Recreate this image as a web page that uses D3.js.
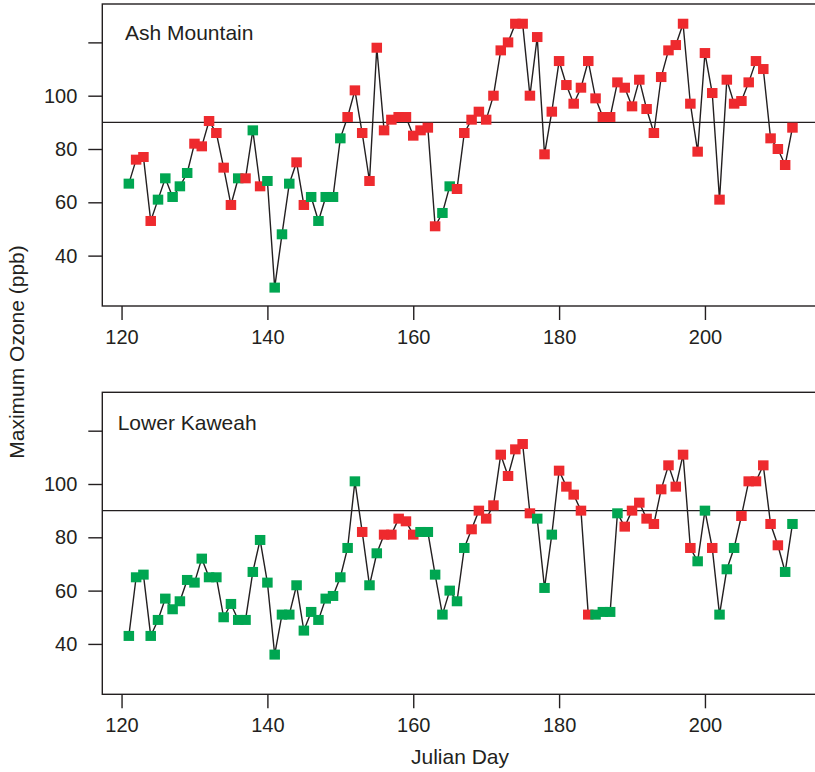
<!DOCTYPE html>
<html><head><meta charset="utf-8">
<script src="https://cdn.jsdelivr.net/npm/d3@7"></script>
<style>
html,body{margin:0;padding:0;background:#fff;}
svg text{font-family:"Liberation Sans",Arial,Helvetica,sans-serif;fill:#231F20;}
</style></head>
<body>
<svg id="chart" width="815" height="772"></svg>
<script>
const days = [121,122,123,124,125,126,127,128,129,130,131,132,133,134,135,136,137,138,139,140,
  141,142,143,144,145,146,147,148,149,150,151,152,153,154,155,156,157,158,159,160,
  161,162,163,164,165,166,167,168,169,170,171,172,173,174,175,176,177,178,179,180,
  181,182,183,184,185,186,187,188,189,190,191,192,193,194,195,196,197,198,199,200,
  201,202,203,204,205,206,207,208,209,210,211,212];

const ashOzone = [67,76,77,53,61,69,62,66,71,82,81,90.5,86,73,59,69,69,87,66,68,
  28,48,67,75,59,62,53,62,62,84,92,102,86,68,118,87,91,92,92,85,
  87,88,51,56,66,65,86,91,94,91,100,117,120,127,127,100,122,78,94,113,
  104,97,103,113,99,92,92,105,103,96,106,95,86,107,117,119,127,97,79,116,
  101,61,106,97,98,105,113,110,84,80,74,88];
const ashExceed = [0,1,1,1,0,0,0,0,0,1,1,1,1,1,1,0,1,0,1,0,
  0,0,0,1,1,0,0,0,0,0,1,1,1,1,1,1,1,1,1,1,
  1,1,1,0,0,1,1,1,1,1,1,1,1,1,1,1,1,1,1,1,
  1,1,1,1,1,1,1,1,1,1,1,1,1,1,1,1,1,1,1,1,
  1,1,1,1,1,1,1,1,1,1,1,1];

const kawOzone = [43,65,66,43,49,57,53,56,64,63,72,65,65,50,55,49,49,67,79,63,
  36,51,51,62,45,52,49,57,58,65,76,101,82,62,74,81,81,87,86,81,
  82,82,66,51,60,56,76,83,90,87,92,111,103,113,115,89,87,61,81,105,
  99,96,90,51,51,52,52,89,84,90,93,87,85,98,107,99,111,76,71,90,
  76,51,68,76,88,101,101,107,85,77,67,85];
const kawExceed = [0,0,0,0,0,0,0,0,0,0,0,0,0,0,0,0,0,0,0,0,
  0,0,0,0,0,0,0,0,0,0,0,0,1,0,0,1,1,1,1,1,
  0,0,0,0,0,0,0,1,1,1,1,1,1,1,1,1,0,0,0,1,
  1,1,1,1,0,0,0,0,1,1,1,1,1,1,1,1,1,1,0,0,
  1,0,0,0,1,1,1,1,1,1,0,0];

const xTicks = [120,140,160,180,200];
const yTicks = [40,60,80,100,120];
const yTickLabels = ["40","60","80","100",""];
const standard = 90;
const panelTitles = ["Ash Mountain","Lower Kaweah"];
const xTitle = "Julian Day";
const yTitle = "Maximum Ozone (ppb)";

const RED = "#EE2A2E", GREEN = "#00A651", INK = "#231F20";
const svg = d3.select("#chart");
const left = 102.3, right = 819;
const x = d3.scaleLinear().domain([117.36, 215.64]).range([left, right]);

const panels = [
  {title: panelTitles[0], vals: ashOzone, flags: ashExceed, top: 4, bottom: 306, tx: 125, ty: 40},
  {title: panelTitles[1], vals: kawOzone, flags: kawExceed, top: 392.3, bottom: 694.3, tx: 117.7, ty: 429.5}
];

panels.forEach(p => {
  const y = d3.scaleLinear().domain([21.1, 134.4]).range([p.bottom, p.top]);
  const g = svg.append("g");
  // box
  g.append("rect").attr("x", left).attr("y", p.top).attr("width", right - left).attr("height", p.bottom - p.top)
    .attr("fill", "none").attr("stroke", INK).attr("stroke-width", 1.4);
  // y axis
  const ya = g.append("g").attr("transform", `translate(${left},0)`)
    .call(d3.axisLeft(y).tickValues(yTicks).tickSize(14).tickPadding(11)
      .tickFormat((d,i) => yTickLabels[i]));
  ya.select(".domain").remove();
  ya.selectAll("line").attr("stroke", INK).attr("stroke-width", 1.4);
  ya.selectAll("text").attr("font-size", 20).attr("fill", INK)
    .attr("font-family", "'Liberation Sans', Arial, sans-serif");
  // x axis
  const xa = g.append("g").attr("transform", `translate(0,${p.bottom})`)
    .call(d3.axisBottom(x).tickValues(xTicks).tickSize(14).tickPadding(10).tickFormat(d3.format("d")));
  xa.select(".domain").remove();
  xa.selectAll("line").attr("stroke", INK).attr("stroke-width", 1.4);
  xa.selectAll("text").attr("font-size", 20).attr("fill", INK)
    .attr("font-family", "'Liberation Sans', Arial, sans-serif");
  // threshold
  g.append("line").attr("x1", left).attr("x2", right).attr("y1", y(standard)).attr("y2", y(standard))
    .attr("stroke", INK).attr("stroke-width", 1.4);
  // line
  const data = days.map((d,i) => ({d, v: p.vals[i], f: p.flags[i]}));
  g.append("path").datum(data)
    .attr("d", d3.line().x(e => x(e.d)).y(e => y(e.v)))
    .attr("fill", "none").attr("stroke", INK).attr("stroke-width", 1.4);
  const w = 10.5, h = 10;
  g.selectAll("rect.pt").data(data).enter().append("rect").attr("class", "pt")
    .attr("x", e => x(e.d) - w/2).attr("y", e => y(e.v) - h/2)
    .attr("width", w).attr("height", h)
    .attr("fill", e => e.f ? RED : GREEN);
  // title
  g.append("text").attr("x", p.tx).attr("y", p.ty).attr("font-size", 21).text(p.title);
});

svg.append("text").attr("x", 460).attr("y", 764).attr("text-anchor", "middle")
  .attr("font-size", 21).text(xTitle);
svg.append("text").attr("transform", "translate(24,352) rotate(-90)").attr("text-anchor", "middle")
  .attr("font-size", 21).text(yTitle);
</script>
</body></html>
